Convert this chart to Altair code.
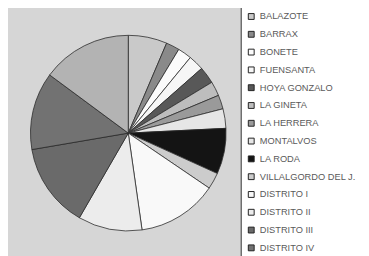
import altair as alt
import pandas as pd

municipios = ["BALAZOTE", "BARRAX", "BONETE", "FUENSANTA", "HOYA GONZALO",
              "LA GINETA", "LA HERRERA", "MONTALVOS", "LA RODA",
              "VILLALGORDO DEL J.", "DISTRITO I", "DISTRITO II",
              "DISTRITO III", "DISTRITO IV", "DISTRITO V"]
valores = [23.1, 8.0, 8.3, 9.2, 10.1, 8.6, 8.3, 11.6, 27.2, 9.8,
           47.7, 38.1, 50.3, 46.2, 53.5]
colores = ["#c9c9c9", "#8a8a8a", "#fbfbfb", "#f6f6f6", "#585858",
           "#bdbdbd", "#9a9a9a", "#e6e6e6", "#141414", "#cccccc",
           "#f9f9f9", "#ececec", "#6a6a6a", "#727272", "#b3b3b3"]
# legend entries visible in the reference (the last one is cut off by the frame)
leyenda = municipios[:14]

df = pd.DataFrame({"municipio": municipios, "valor": valores,
                   "orden": list(range(len(municipios)))})

chart = alt.Chart(df).mark_arc(
    x=123, y=125, outerRadius=100, stroke="#2a2a2a", strokeWidth=0.8
).encode(
    theta=alt.Theta("valor:Q", stack=True),
    order=alt.Order("orden:Q"),
    color=alt.Color(
        "municipio:N",
        scale=alt.Scale(domain=municipios, range=colores),
        sort=municipios,
        legend=alt.Legend(
            title=None, orient="none", legendX=238, legendY=-5,
            values=leyenda,
            symbolType="square", symbolSize=36, symbolStrokeColor="#222222",
            symbolStrokeWidth=1, labelFontSize=9.5, labelFont="Liberation Sans",
            labelColor="#5a5a5a", rowPadding=7.2, padding=6, labelOffset=4,
            fillColor="#ffffff", strokeColor="#333333",
            labelLimit=200,
        ),
    ),
).properties(width=361, height=260, autosize=alt.AutoSizeParams(type="none"))

chart = chart.configure(background="#d6d6d6", padding=0).configure_view(stroke=None)

chart.save("out.html", embed_options={"renderer": "svg", "actions": False})
